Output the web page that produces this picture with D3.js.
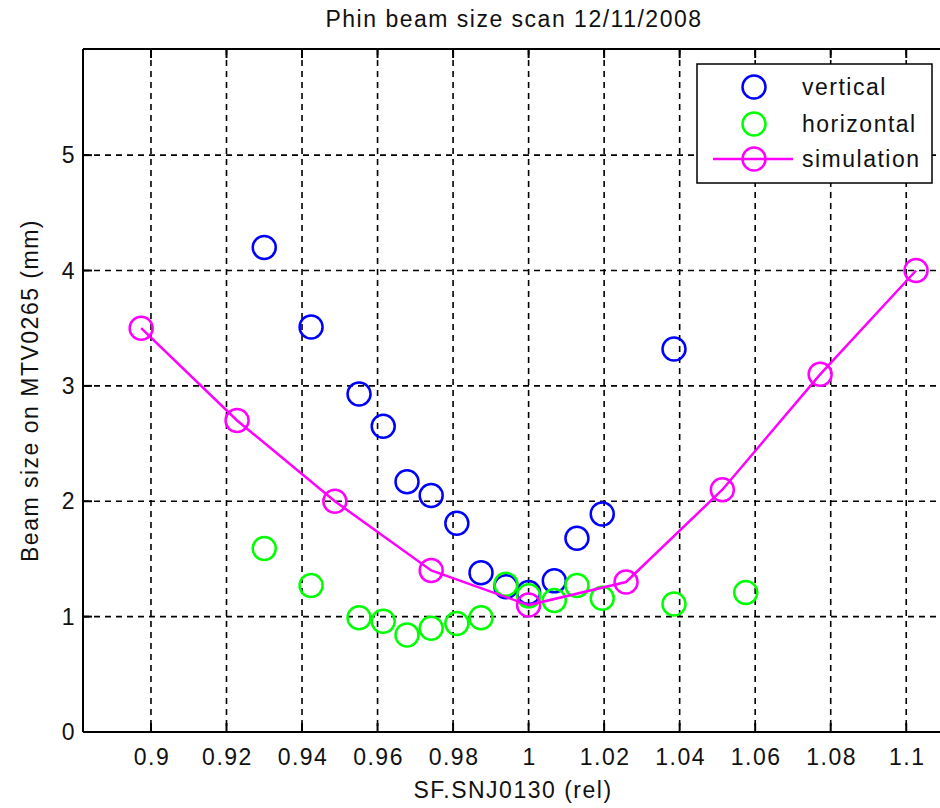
<!DOCTYPE html>
<html>
<head>
<meta charset="utf-8">
<script src="https://cdn.jsdelivr.net/npm/d3@7"></script>
<style>
  body { margin: 0; background: #fff; }
  text { font-family: "Liberation Sans", Arial, sans-serif; font-size: 23px; letter-spacing: 1.5px; fill: #111; }
</style>
</head>
<body>
<div id="canvas"></div>
<script>
// Scan settings of the vertical and horizontal measurements (rel).
const measX = [0.930, 0.9424, 0.9551, 0.9615, 0.9678, 0.9742, 0.981, 0.9874, 0.994, 1.0, 1.0068, 1.0128, 1.0195, 1.0385, 1.0575];
// Measured beam sizes (mm).
const vertical = [4.20, 3.51, 2.93, 2.65, 2.17, 2.05, 1.81, 1.38, 1.26, 1.21, 1.31, 1.68, 1.89, 3.32, null];
const horizontal = [1.59, 1.27, 0.99, 0.96, 0.84, 0.90, 0.94, 0.99, 1.28, 1.18, 1.14, 1.27, 1.16, 1.11, 1.21];
// Simulated beam size.
const simX = [0.8974, 0.9228, 0.9487, 0.9742, 1.0, 1.0258, 1.0513, 1.0772, 1.1026];
const simY = [3.50, 2.70, 2.00, 1.40, 1.10, 1.30, 2.10, 3.10, 4.00];
// Tick labels.
const xTicks = [0.9, 0.92, 0.94, 0.96, 0.98, 1.0, 1.02, 1.04, 1.06, 1.08, 1.1];
const yTicks = [0, 1, 2, 3, 4, 5];

const w = 940, h = 808;
const plotLeft = 83, plotTop = 49, plotBottom = 732;

const x = d3.scaleLinear().domain([0.882, 1.11]).range([plotLeft, 944]);
const y = d3.scaleLinear().domain([0, 5.92]).range([plotBottom, plotTop]);

const svg = d3.select("#canvas").append("svg")
    .attr("width", w)
    .attr("height", h);

// Dashed grid.
svg.append("g").selectAll("line").data(xTicks).join("line")
    .attr("x1", d => x(d)).attr("x2", d => x(d))
    .attr("y1", plotTop).attr("y2", plotBottom)
    .attr("stroke", "#000").attr("stroke-width", 1.6)
    .attr("stroke-dasharray", "6,5");
svg.append("g").selectAll("line").data(yTicks.slice(1)).join("line")
    .attr("x1", plotLeft).attr("x2", w)
    .attr("y1", d => y(d)).attr("y2", d => y(d))
    .attr("stroke", "#000").attr("stroke-width", 1.6)
    .attr("stroke-dasharray", "6,5");

// Axis frame with inward ticks.
const frame = svg.append("g").attr("stroke", "#000").attr("stroke-width", 2);
frame.append("line").attr("x1", plotLeft).attr("x2", w).attr("y1", plotBottom).attr("y2", plotBottom);
frame.append("line").attr("x1", plotLeft).attr("x2", w).attr("y1", plotTop).attr("y2", plotTop);
frame.append("line").attr("x1", plotLeft).attr("x2", plotLeft).attr("y1", plotTop).attr("y2", plotBottom);
frame.selectAll(".tb").data(xTicks).join("line")
    .attr("x1", d => x(d)).attr("x2", d => x(d))
    .attr("y1", plotBottom).attr("y2", plotBottom - 9);
frame.selectAll(".tt").data(xTicks).join("line")
    .attr("x1", d => x(d)).attr("x2", d => x(d))
    .attr("y1", plotTop).attr("y2", plotTop + 9);
frame.selectAll(".tl").data(yTicks).join("line")
    .attr("x1", plotLeft).attr("x2", plotLeft + 9)
    .attr("y1", d => y(d)).attr("y2", d => y(d));

// Tick labels.
svg.append("g").selectAll("text").data(xTicks).join("text")
    .attr("x", d => x(d) + 1)
    .attr("y", 765)
    .attr("text-anchor", "middle")
    .text(d => String(+d.toFixed(2)));
svg.append("g").selectAll("text").data(yTicks).join("text")
    .attr("x", 76)
    .attr("y", d => y(d) + 8)
    .attr("text-anchor", "end")
    .text(d => d);

// Title and axis labels.
svg.append("text").attr("x", 514).attr("y", 27).attr("text-anchor", "middle")
    .text("Phin beam size scan 12/11/2008");
svg.append("text").attr("x", 513).attr("y", 798).attr("text-anchor", "middle")
    .text("SF.SNJ0130 (rel)");
svg.append("text")
    .attr("transform", `translate(38,${(plotTop + plotBottom) / 2}) rotate(-90)`)
    .attr("text-anchor", "middle")
    .text("Beam size on MTV0265 (mm)");

// Measurements as open circles.
function drawCircles(xs, ys, color) {
    svg.append("g").selectAll("circle")
        .data(xs.map((d, i) => [d, ys[i]]).filter(d => d[1] != null))
        .join("circle")
        .attr("cx", d => x(d[0]))
        .attr("cy", d => y(d[1]))
        .attr("r", 11.5)
        .attr("fill", "none")
        .attr("stroke", color)
        .attr("stroke-width", 2.5);
}
drawCircles(measX, vertical, "#0000ff");
drawCircles(measX, horizontal, "#00ff00");

// Simulation line with markers.
const line = d3.line().x(d => x(d[0])).y(d => y(d[1]));
svg.append("path")
    .datum(simX.map((d, i) => [d, simY[i]]))
    .attr("d", line)
    .attr("fill", "none")
    .attr("stroke", "#ff00ff")
    .attr("stroke-width", 2.5);
drawCircles(simX, simY, "#ff00ff");

// Legend.
const legend = svg.append("g");
legend.append("rect")
    .attr("x", 697).attr("y", 64)
    .attr("width", 235).attr("height", 119)
    .attr("fill", "#fff").attr("stroke", "#000").attr("stroke-width", 1.5);
const entries = [
    { label: "vertical", color: "#0000ff", line: false },
    { label: "horizontal", color: "#00ff00", line: false },
    { label: "simulation", color: "#ff00ff", line: true }
];
const ly = [87, 124, 159];
entries.forEach((e, i) => {
    if (e.line) {
        legend.append("line")
            .attr("x1", 713).attr("x2", 793)
            .attr("y1", ly[i]).attr("y2", ly[i])
            .attr("stroke", e.color).attr("stroke-width", 2.5);
    }
    legend.append("circle")
        .attr("cx", 754).attr("cy", ly[i]).attr("r", 11.5)
        .attr("fill", "none").attr("stroke", e.color).attr("stroke-width", 2.5);
    legend.append("text")
        .attr("x", 802).attr("y", ly[i] + 8)
        .text(e.label);
});
</script>
</body>
</html>
